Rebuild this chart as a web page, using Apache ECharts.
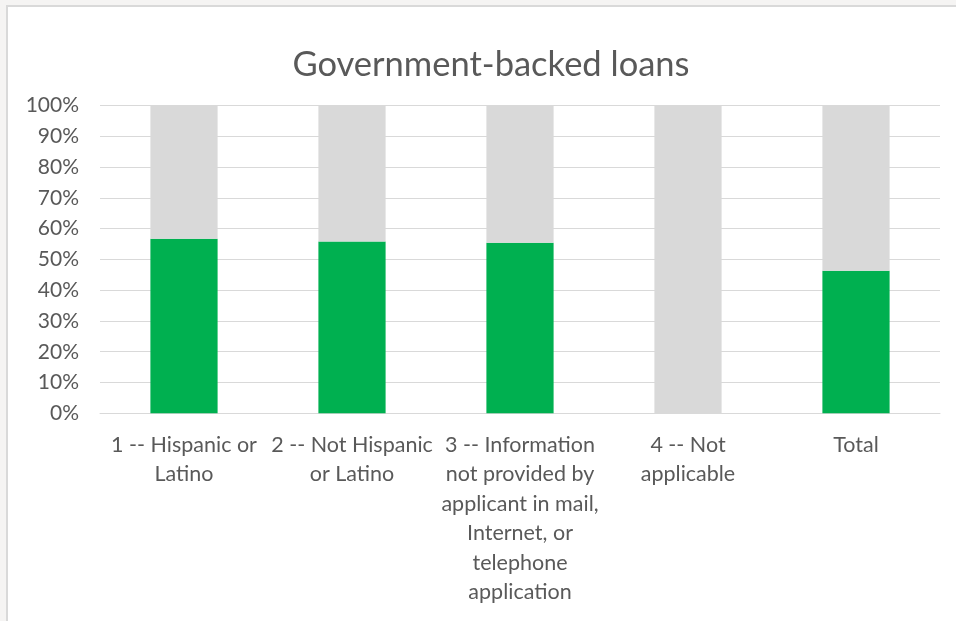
<!DOCTYPE html>
<html>
<head>
<meta charset="utf-8">
<title>Government-backed loans</title>
<script src="https://cdn.jsdelivr.net/npm/echarts@6/dist/echarts.min.js"></script>
<style>
  html, body { margin: 0; padding: 0; width: 956px; height: 621px; overflow: hidden; background: #f5f4f3; }
  #frame { position: absolute; left: 6px; top: 5px; width: 980px; height: 700px; background: #ffffff; border: 2px solid #d9d9d9; box-sizing: border-box; }
  #chart { position: absolute; left: 0; top: 0; width: 956px; height: 621px; }
</style>
</head>
<body>
<div id="frame"></div>
<div id="chart"></div>
<script>
// Ethnicity categories on the x axis
const categories = [
  '1 -- Hispanic or\nLatino',
  '2 -- Not Hispanic\nor Latino',
  '3 -- Information\nnot provided by\napplicant in mail,\nInternet, or\ntelephone\napplication',
  '4 -- Not\napplicable',
  'Total'
];
// Share of loans that are government-backed (%)
const governmentBacked = [56.7, 55.8, 55.4, 0, 46.3];
// Share of the remaining loans (%)
const otherLoans = [43.3, 44.2, 44.6, 100, 53.7];
// Y axis ticks
const yTicks = [0, 10, 20, 30, 40, 50, 60, 70, 80, 90, 100];

const textColor = '#595959';
const fontFamily = 'Lato, "Open Sans", sans-serif';

const chart = echarts.init(document.getElementById('chart'), null, { renderer: 'canvas' });
chart.setOption({
  backgroundColor: 'transparent',
  animation: false,
  title: {
    text: 'Government-backed loans',
    left: 486,
    top: 42,
    textAlign: 'center',
    textStyle: { color: textColor, fontSize: 34.5, fontWeight: 'normal', fontFamily: fontFamily }
  },
  grid: { left: 100, right: 16, top: 105.5, bottom: 207.7, containLabel: false },
  xAxis: {
    type: 'category',
    data: categories,
    axisLine: { show: true, lineStyle: { color: '#d9d9d9', width: 1 } },
    axisTick: { show: false },
    axisLabel: {
      color: textColor, fontSize: 21.5, fontFamily: fontFamily,
      lineHeight: 29.4, margin: 17, interval: 0, align: 'center'
    }
  },
  yAxis: {
    type: 'value',
    min: yTicks[0],
    max: yTicks[yTicks.length - 1],
    interval: 10,
    axisLine: { show: false },
    axisTick: { show: false },
    splitLine: { lineStyle: { color: '#d9d9d9', width: 1 } },
    axisLabel: {
      color: textColor, fontSize: 21, fontFamily: fontFamily, margin: 21,
      formatter: v => v + '%'
    }
  },
  series: [
    {
      name: 'Government-backed',
      type: 'bar',
      stack: 'share',
      barWidth: '40%',
      data: governmentBacked,
      itemStyle: { color: '#00b050' }
    },
    {
      name: 'Other',
      type: 'bar',
      stack: 'share',
      barWidth: '40%',
      data: otherLoans,
      itemStyle: { color: '#d9d9d9' }
    }
  ]
});
</script>
</body>
</html>
